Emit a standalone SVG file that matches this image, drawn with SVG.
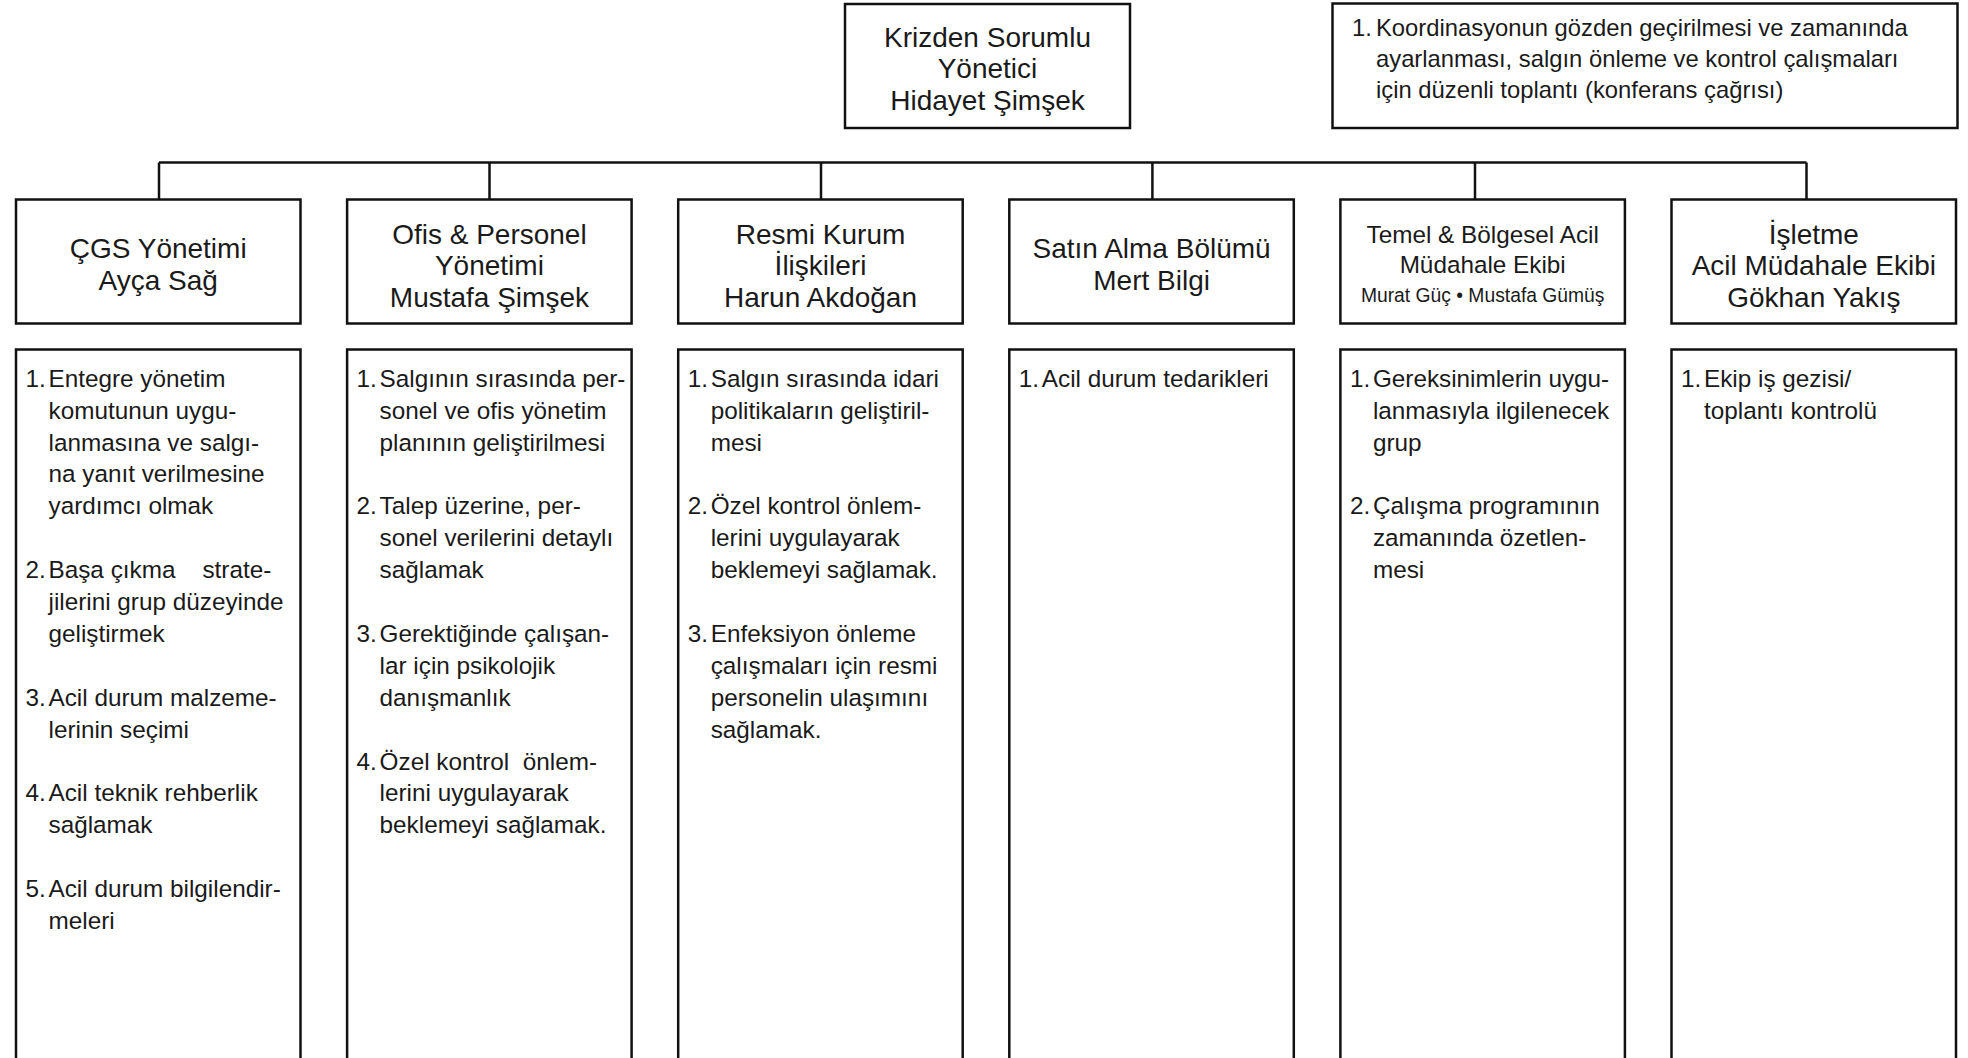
<svg xmlns="http://www.w3.org/2000/svg" width="1968" height="1058" viewBox="0 0 1968 1058">
<style>
  .box { fill: #ffffff; stroke: #111111; stroke-width: 2.5; }
  .conn { fill: none; stroke: #111111; stroke-width: 2.5; }
  text { font-family: "Liberation Sans", Arial, sans-serif; fill: #1a1a1a; }
  .hd { font-size: 28px; text-anchor: middle; }
  .hd2 { font-size: 24.3px; text-anchor: middle; }
  .hd3 { font-size: 19.3px; text-anchor: middle; }
  .bd { font-size: 24.3px; }
  .nt { font-size: 23.8px; }
</style>
<rect width="1968" height="1058" fill="#ffffff"/>

<g id="connectors">
  <path class="conn" d="M159 162.5 H1806.5"/>
  <path class="conn" d="M159 162.5 V199.5"/>
  <path class="conn" d="M489.5 162.5 V199.5"/>
  <path class="conn" d="M821 162.5 V199.5"/>
  <path class="conn" d="M1152.4 162.5 V199.5"/>
  <path class="conn" d="M1475 162.5 V199.5"/>
  <path class="conn" d="M1806.5 162.5 V199.5"/>
</g>

<g id="node-root">
  <rect class="box" x="845" y="4" width="285" height="124"/>
  <text class="hd" x="987.5" y="46.7">Krizden Sorumlu</text>
  <text class="hd" x="987.5" y="78.3">Yönetici</text>
  <text class="hd" x="987.5" y="110">Hidayet Şimşek</text>
</g>

<g id="node-note">
  <rect class="box" x="1332.5" y="3.5" width="625" height="124.5"/>
  <text class="nt" x="1352" y="36">1.</text>
  <text class="nt" x="1376" y="36">Koordinasyonun gözden geçirilmesi ve zamanında</text>
  <text class="nt" x="1376" y="67">ayarlanması, salgın önleme ve kontrol çalışmaları</text>
  <text class="nt" x="1376" y="98">için düzenli toplantı (konferans çağrısı)</text>
</g>

<g id="node-cgs">
  <rect class="box" x="16" y="199.5" width="284.5" height="124"/>
  <text class="hd" x="158.2" y="258.3">ÇGS Yönetimi</text>
  <text class="hd" x="158.2" y="290">Ayça Sağ</text>
</g>
<g id="node-ofis">
  <rect class="box" x="347.1" y="199.5" width="284.5" height="124"/>
  <text class="hd" x="489.4" y="243.5">Ofis &amp; Personel</text>
  <text class="hd" x="489.4" y="275">Yönetimi</text>
  <text class="hd" x="489.4" y="306.5">Mustafa Şimşek</text>
</g>
<g id="node-resmi">
  <rect class="box" x="678.2" y="199.5" width="284.5" height="124"/>
  <text class="hd" x="820.5" y="243.5">Resmi Kurum</text>
  <text class="hd" x="820.5" y="275">İlişkileri</text>
  <text class="hd" x="820.5" y="306.5">Harun Akdoğan</text>
</g>
<g id="node-satin">
  <rect class="box" x="1009.3" y="199.5" width="284.5" height="124"/>
  <text class="hd" x="1151.6" y="258.3">Satın Alma Bölümü</text>
  <text class="hd" x="1151.6" y="290">Mert Bilgi</text>
</g>
<g id="node-temel">
  <rect class="box" x="1340.4" y="199.5" width="284.5" height="124"/>
  <text class="hd2" x="1482.7" y="243.3">Temel &amp; Bölgesel Acil</text>
  <text class="hd2" x="1482.7" y="273">Müdahale Ekibi</text>
  <text class="hd3" x="1482.7" y="301.7">Murat Güç • Mustafa Gümüş</text>
</g>
<g id="node-isletme">
  <rect class="box" x="1671.5" y="199.5" width="284.5" height="124"/>
  <text class="hd" x="1813.8" y="243.5">İşletme</text>
  <text class="hd" x="1813.8" y="275">Acil Müdahale Ekibi</text>
  <text class="hd" x="1813.8" y="306.5">Gökhan Yakış</text>
</g>

<g id="tasks-cgs">
  <rect class="box" x="16" y="349.5" width="284.5" height="730"/>
  <text class="bd" x="25.5" y="386.7">1.</text>
  <text class="bd" x="48.5" y="386.7">Entegre yönetim</text>
  <text class="bd" x="48.5" y="418.6">komutunun uygu-</text>
  <text class="bd" x="48.5" y="450.5">lanmasına ve salgı-</text>
  <text class="bd" x="48.5" y="482.4">na yanıt verilmesine</text>
  <text class="bd" x="48.5" y="514.3">yardımcı olmak</text>
  <text class="bd" x="25.5" y="578.1">2.</text>
  <text class="bd" x="48.5" y="578.1" xml:space="preserve">Başa çıkma    strate-</text>
  <text class="bd" x="48.5" y="610">jilerini grup düzeyinde</text>
  <text class="bd" x="48.5" y="641.9">geliştirmek</text>
  <text class="bd" x="25.5" y="705.7">3.</text>
  <text class="bd" x="48.5" y="705.7">Acil durum malzeme-</text>
  <text class="bd" x="48.5" y="737.6">lerinin seçimi</text>
  <text class="bd" x="25.5" y="801.4">4.</text>
  <text class="bd" x="48.5" y="801.4">Acil teknik rehberlik</text>
  <text class="bd" x="48.5" y="833.3">sağlamak</text>
  <text class="bd" x="25.5" y="897.1">5.</text>
  <text class="bd" x="48.5" y="897.1">Acil durum bilgilendir-</text>
  <text class="bd" x="48.5" y="929">meleri</text>
</g>

<g id="tasks-ofis">
  <rect class="box" x="347.1" y="349.5" width="284.5" height="730"/>
  <text class="bd" x="356.6" y="386.7">1.</text>
  <text class="bd" x="379.6" y="386.7">Salgının sırasında per-</text>
  <text class="bd" x="379.6" y="418.6">sonel ve ofis yönetim</text>
  <text class="bd" x="379.6" y="450.5">planının geliştirilmesi</text>
  <text class="bd" x="356.6" y="514.3">2.</text>
  <text class="bd" x="379.6" y="514.3">Talep üzerine, per-</text>
  <text class="bd" x="379.6" y="546.2">sonel verilerini detaylı</text>
  <text class="bd" x="379.6" y="578.1">sağlamak</text>
  <text class="bd" x="356.6" y="641.9">3.</text>
  <text class="bd" x="379.6" y="641.9">Gerektiğinde çalışan-</text>
  <text class="bd" x="379.6" y="673.8">lar için psikolojik</text>
  <text class="bd" x="379.6" y="705.7">danışmanlık</text>
  <text class="bd" x="356.6" y="769.5">4.</text>
  <text class="bd" x="379.6" y="769.5" xml:space="preserve">Özel kontrol  önlem-</text>
  <text class="bd" x="379.6" y="801.4">lerini uygulayarak</text>
  <text class="bd" x="379.6" y="833.3">beklemeyi sağlamak.</text>
</g>

<g id="tasks-resmi">
  <rect class="box" x="678.2" y="349.5" width="284.5" height="730"/>
  <text class="bd" x="687.7" y="386.7">1.</text>
  <text class="bd" x="710.7" y="386.7">Salgın sırasında idari</text>
  <text class="bd" x="710.7" y="418.6">politikaların geliştiril-</text>
  <text class="bd" x="710.7" y="450.5">mesi</text>
  <text class="bd" x="687.7" y="514.3">2.</text>
  <text class="bd" x="710.7" y="514.3">Özel kontrol önlem-</text>
  <text class="bd" x="710.7" y="546.2">lerini uygulayarak</text>
  <text class="bd" x="710.7" y="578.1">beklemeyi sağlamak.</text>
  <text class="bd" x="687.7" y="641.9">3.</text>
  <text class="bd" x="710.7" y="641.9">Enfeksiyon önleme</text>
  <text class="bd" x="710.7" y="673.8">çalışmaları için resmi</text>
  <text class="bd" x="710.7" y="705.7">personelin ulaşımını</text>
  <text class="bd" x="710.7" y="737.6">sağlamak.</text>
</g>

<g id="tasks-satin">
  <rect class="box" x="1009.3" y="349.5" width="284.5" height="730"/>
  <text class="bd" x="1018.8" y="386.7">1.</text>
  <text class="bd" x="1041.8" y="386.7">Acil durum tedarikleri</text>
</g>

<g id="tasks-temel">
  <rect class="box" x="1340.4" y="349.5" width="284.5" height="730"/>
  <text class="bd" x="1349.9" y="386.7">1.</text>
  <text class="bd" x="1372.9" y="386.7">Gereksinimlerin uygu-</text>
  <text class="bd" x="1372.9" y="418.6">lanmasıyla ilgilenecek</text>
  <text class="bd" x="1372.9" y="450.5">grup</text>
  <text class="bd" x="1349.9" y="514.3">2.</text>
  <text class="bd" x="1372.9" y="514.3">Çalışma programının</text>
  <text class="bd" x="1372.9" y="546.2">zamanında özetlen-</text>
  <text class="bd" x="1372.9" y="578.1">mesi</text>
</g>

<g id="tasks-isletme">
  <rect class="box" x="1671.5" y="349.5" width="284.5" height="730"/>
  <text class="bd" x="1681" y="386.7">1.</text>
  <text class="bd" x="1704" y="386.7">Ekip iş gezisi/</text>
  <text class="bd" x="1704" y="418.6">toplantı kontrolü</text>
</g>
</svg>
